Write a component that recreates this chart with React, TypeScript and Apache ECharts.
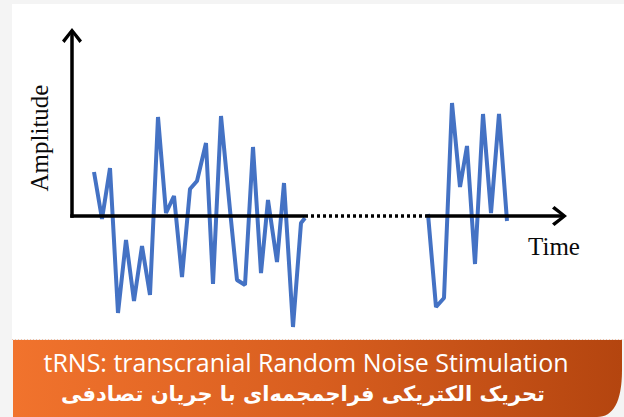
import React, { useEffect, useRef } from "react";
import * as echarts from "echarts";

const burst1Time = [22, 30, 38, 46, 54, 62, 70, 78, 86, 94, 102, 110, 118, 125, 134, 141, 149, 158, 165, 173, 181, 189, 196, 205, 212, 221, 229, 233];
const burst1Amp = [44, -3, 48, -97, -24, -85, -30, -79, 99, 3, 20, -61, 27, 35, 73, -68, 100, 6, -64, -69, 69, -57, 16, -46, 33, -111, -7, -2];
const burst2Time = [356, 364, 372, 380, 388, 395, 403, 411, 419, 427, 435];
const burst2Amp = [2, -91, -82, 113, 29, 70, -48, 102, 3, 102, -5];

// Axis extents (the pause between bursts is drawn as a dotted stretch of the time axis)
const timeGap = [233, 356];
const timeMax = 495;
const ampMax = 188;
const ampMin = -112;

const axisNames = ["Amplitude", "Time"];
const bannerLines = [
  "tRNS: transcranial Random Noise Stimulation",
  "تحریک الکتریکی فراجمجمه‌ای با جریان تصادفی",
];

const CHEVRON = "path://M10,0 L20,12.5 L17.5,15 L10,5 L2.5,15 L0,12.5 Z";

export default function App() {
  const ref = useRef<HTMLDivElement>(null);

  useEffect(() => {
    if (!ref.current) return;
    echarts.graphic.registerShape(
      "bannerShape",
      echarts.graphic.extendPath("M0,0 L609,0 L609,30 C609,62 600,77 584,77 L0,77 Z", {})
    );
    const chart = echarts.init(ref.current, undefined, { renderer: "svg" });

    const zip = (t: number[], a: number[]) => t.map((v, i) => [v, a[i]]);
    const axisStyle = { color: "#000", width: 3.5, cap: "butt" as const };

    chart.setOption({
      animation: false,
      backgroundColor: "#f4f4f4",
      grid: { left: 72, right: 57, top: 28, bottom: 89, containLabel: false },
      xAxis: {
        type: "value",
        min: 0,
        max: timeMax,
        show: false,
      },
      yAxis: {
        type: "value",
        min: ampMin,
        max: ampMax,
        show: false,
      },
      graphic: [
        {
          type: "rect",
          z: -10,
          shape: { x: 12, y: 4, width: 612, height: 335 },
          style: { fill: "#ffffff" },
          silent: true,
        },
        {
          type: "line",
          z: -9,
          shape: { x1: 12, y1: 339.5, x2: 622, y2: 339.5 },
          style: { stroke: "#efc3ab", lineWidth: 1, lineDash: [1, 2] },
          silent: true,
        },
        {
          type: "bannerShape",
          x: 13,
          y: 340,
          z: -8,
          silent: true,
          style: {
            fill: new echarts.graphic.LinearGradient(0, 0, 1, 0, [
              { offset: 0, color: "#F1732D" },
              { offset: 0.5, color: "#D85E1F" },
              { offset: 1, color: "#B4450F" },
            ]),
          },
        },
        {
          type: "text",
          x: 306,
          y: 362,
          style: {
            text: bannerLines[0],
            font: '25px "Open Sans"',
            fill: "#ffffff",
            align: "center",
            verticalAlign: "middle",
          },
        },
        {
          type: "text",
          x: 303,
          y: 394,
          style: {
            text: bannerLines[1],
            font: 'bold 21px "DejaVu Sans"',
            fill: "#ffffff",
            align: "center",
            verticalAlign: "middle",
          },
        },
        {
          type: "text",
          x: 39,
          y: 138,
          rotation: Math.PI / 2,
          style: {
            text: axisNames[0],
            font: '25px "Liberation Serif"',
            fill: "#0a0a0a",
            align: "center",
            verticalAlign: "middle",
          },
        },
        {
          type: "text",
          x: 554,
          y: 246,
          style: {
            text: axisNames[1],
            font: '25px "Liberation Serif"',
            fill: "#0a0a0a",
            align: "center",
            verticalAlign: "middle",
          },
        },
      ],
      series: [
        {
          name: "burst1",
          type: "line",
          z: 2,
          silent: true,
          symbol: "none",
          data: zip(burst1Time, burst1Amp),
          lineStyle: { color: "#4472C4", width: 4 },
        },
        {
          name: "burst2",
          type: "line",
          z: 2,
          silent: true,
          symbol: "none",
          data: zip(burst2Time, burst2Amp),
          lineStyle: { color: "#4472C4", width: 4 },
        },
        {
          name: "ampAxis",
          type: "line",
          z: 4,
          silent: true,
          clip: false,
          symbol: "none",
          itemStyle: { color: "#000", borderWidth: 0 },
          lineStyle: axisStyle,
          data: [
            [0, -1.75],
            {
              value: [0, ampMax - 3],
              symbol: CHEVRON,
              symbolSize: [20, 15],
              symbolOffset: [0, 4.5],
            },
          ],
        },
        {
          name: "timeAxisA",
          type: "line",
          z: 4,
          silent: true,
          clip: false,
          symbol: "none",
          lineStyle: axisStyle,
          data: [
            [-1.75, 0],
            [timeGap[0], 0],
          ],
        },
        {
          name: "timeAxisGap",
          type: "line",
          z: 4,
          silent: true,
          clip: false,
          symbol: "none",
          lineStyle: { color: "#000", width: 3.5, type: [3, 3], cap: "butt" },
          data: [
            [timeGap[0], 0],
            [timeGap[1], 0],
          ],
        },
        {
          name: "timeAxisB",
          type: "line",
          z: 4,
          silent: true,
          clip: false,
          symbol: "none",
          itemStyle: { color: "#000", borderWidth: 0 },
          lineStyle: axisStyle,
          data: [
            [timeGap[1], 0],
            {
              value: [timeMax - 3, 0],
              symbol: CHEVRON,
              symbolSize: [20, 15],
              symbolRotate: -90,
              symbolOffset: [-4.5, 0],
            },
          ],
        },
      ],
    });

    return () => chart.dispose();
  }, []);

  return (
    <div
      ref={ref}
      style={{ position: "absolute", left: 0, top: 0, width: 624, height: 417 }}
    />
  );
}
